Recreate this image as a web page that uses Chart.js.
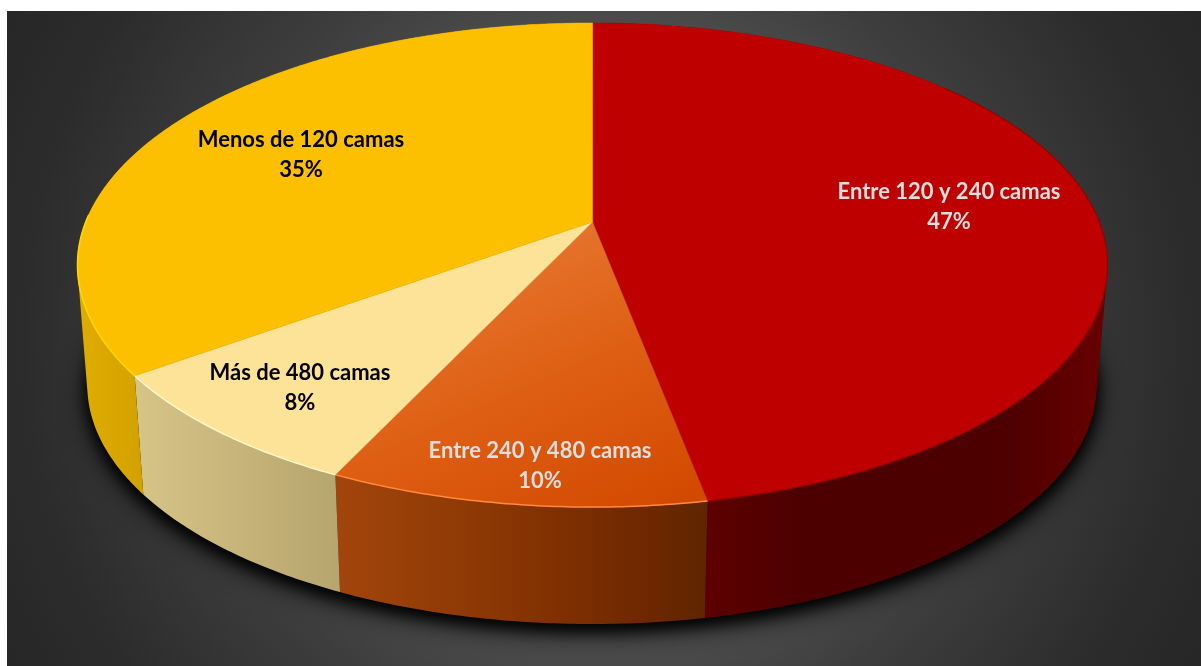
<!DOCTYPE html>
<html lang="es">
<head>
<meta charset="utf-8">
<title>Hospitales por número de camas</title>
<script src="https://cdn.jsdelivr.net/npm/chart.js@4/dist/chart.umd.min.js"></script>
<style>
  html, body { margin: 0; padding: 0; width: 1201px; height: 666px; background: #fff; overflow: hidden; }
  #panel {
    position: absolute; left: 7px; top: 11px; width: 1194px; height: 655px;
    background: radial-gradient(circle 690px at 597px 327px,
      #5e5e5e 0%, #545454 30%, #4c4c4c 45%, #3d3d3d 60%, #2c2c2c 84%, #272727 97%);
  }
  #wrap { position: absolute; left: 0; top: 0; width: 1201px; height: 666px; }
</style>
</head>
<body>
<div id="panel"></div>
<div id="wrap"><canvas id="chart" width="1201" height="666"></canvas></div>
<script>
// Distribution of hospitals by bed count, clockwise from twelve o'clock.
const categories = ['Entre 120 y 240 camas', 'Entre 240 y 480 camas', 'Más de 480 camas', 'Menos de 120 camas'];
const shares = [47, 10, 8, 35];
const percentLabels = ['47%', '10%', '8%', '35%'];

const faceColors = ['#BE0000', null, '#FCE397', '#FDC000'];
const labelColors = ['#DEDEDE', '#DEDEDE', '#000000', '#000000'];
const labelCentres = [[949, 207], [540, 466], [300, 388], [301, 155]];
const rimColors = ['#960000', '#FF8A3C', '#FFF8C4', '#FFD800'];
const wallStops = [
  [[703, '#5E0000'], [800, '#4D0000'], [1000, '#4C0000'], [1104, '#680000']],
  [[340, '#A2450C'], [500, '#8A3603'], [640, '#702800'], [706, '#602500']],
  [[140, '#D6C386'], [346, '#B5A46C']],
  [[80, '#DFAC00'], [150, '#D2A000']]
];

// Perspective projection of the unit disc, one plane for the top face, one for the base.
const TILT = -0.1777;
const TOP_PLANE = { cx: 592.5, cy: 222, kx: 506.8, ky: 234.4 };
const BASE_PLANE = { cx: 592, cy: 342.6, kx: 496.7, ky: 231.4 };

function project(plane, u, v) {
  const w = 1 + TILT * v;
  return [plane.cx + plane.kx * u / w, plane.cy + plane.ky * v / w];
}

function rimPoints(plane, start, end) {
  const steps = Math.max(4, Math.ceil((end - start) / 0.01));
  const pts = [];
  for (let i = 0; i <= steps; i++) {
    const t = start + (end - start) * i / steps;
    pts.push(project(plane, Math.cos(t), Math.sin(t)));
  }
  return pts;
}

function tracePath(ctx, pts, continuing) {
  pts.forEach((p, i) => (i || continuing ? ctx.lineTo(p[0], p[1]) : ctx.moveTo(p[0], p[1])));
}

function signedArea(q) {
  let s = 0;
  q.forEach((p, i) => {
    const n = q[(i + 1) % q.length];
    s += p[0] * n[1] - n[0] * p[1];
  });
  return s;
}

const pie3d = {
  id: 'pie3d',
  beforeDatasetDraw(chart, args) {
    const ctx = chart.ctx;
    const arcs = args.meta.data.map(a => a.getProps(['startAngle', 'endAngle'], true));

    // Soft shadow thrown by the base onto the floor, layered for a dense core.
    ctx.save();
    ctx.fillStyle = '#111';
    [[26, 9], [14, 6]].forEach(([blur, drop]) => {
      ctx.shadowColor = 'rgba(0,0,0,0.9)';
      ctx.shadowBlur = blur;
      ctx.shadowOffsetY = drop;
      ctx.beginPath();
      tracePath(ctx, rimPoints(BASE_PLANE, 0, Math.PI * 2));
      ctx.closePath();
      ctx.fill();
    });
    ctx.restore();

    // Side walls: narrow quads of one winding merged into a single path, so the
    // silhouette between the two rims is filled without seams.
    arcs.forEach((arc, i) => {
      const top = rimPoints(TOP_PLANE, arc.startAngle, arc.endAngle);
      const base = rimPoints(BASE_PLANE, arc.startAngle, arc.endAngle);
      const stops = wallStops[i];
      const x0 = stops[0][0], x1 = stops[stops.length - 1][0];
      const g = ctx.createLinearGradient(x0, 0, x1, 0);
      stops.forEach(s => g.addColorStop((s[0] - x0) / (x1 - x0), s[1]));
      ctx.fillStyle = g;
      ctx.beginPath();
      for (let k = 0; k < top.length - 1; k++) {
        const quad = [top[k], top[k + 1], base[k + 1], base[k]];
        if (signedArea(quad) < 0) quad.reverse();
        tracePath(ctx, quad);
        ctx.closePath();
      }
      ctx.fill('nonzero');
    });

    // Top faces.
    const apex = project(TOP_PLANE, 0, 0);
    arcs.forEach((arc, i) => {
      let fill = faceColors[i];
      if (!fill) {
        fill = ctx.createLinearGradient(560, 230, 680, 500);
        fill.addColorStop(0, '#E5732C');
        fill.addColorStop(0.45, '#DE5F14');
        fill.addColorStop(1, '#D24A00');
      }
      ctx.fillStyle = fill;
      ctx.strokeStyle = fill;
      ctx.lineWidth = 0.5;
      ctx.beginPath();
      ctx.moveTo(apex[0], apex[1]);
      tracePath(ctx, rimPoints(TOP_PLANE, arc.startAngle, arc.endAngle), true);
      ctx.closePath();
      ctx.fill();
      ctx.stroke();
    });

    // Bevel highlight along the rim of the front-facing part of each slice.
    arcs.forEach((arc, i) => {
      const span = arc.endAngle - arc.startAngle;
      const from = i === 0 ? arc.startAngle + span * 0.3 : arc.startAngle;
      const upTo = i === 3 ? arc.startAngle + span * 0.3 : arc.endAngle;
      ctx.strokeStyle = rimColors[i];
      ctx.lineWidth = i === 0 ? 1.1 : 1.5;
      ctx.beginPath();
      tracePath(ctx, rimPoints(TOP_PLANE, from, upTo));
      ctx.stroke();
    });

    // Category and percentage labels.
    ctx.save();
    ctx.font = 'bold 22px Lato, "Open Sans", sans-serif';
    ctx.textAlign = 'center';
    ctx.textBaseline = 'middle';
    categories.forEach((name, i) => {
      const c = labelCentres[i];
      ctx.fillStyle = labelColors[i];
      ctx.fillText(name, c[0], c[1] - 15);
      ctx.fillText(percentLabels[i], c[0], c[1] + 15);
    });
    ctx.restore();
    return false;
  }
};

new Chart(document.getElementById('chart'), {
  type: 'pie',
  data: {
    labels: categories,
    datasets: [{ data: shares, backgroundColor: rimColors, borderWidth: 0 }]
  },
  options: {
    responsive: false,
    animation: false,
    events: [],
    plugins: { legend: { display: false }, tooltip: { enabled: false } }
  },
  plugins: [pie3d]
});
</script>
</body>
</html>
